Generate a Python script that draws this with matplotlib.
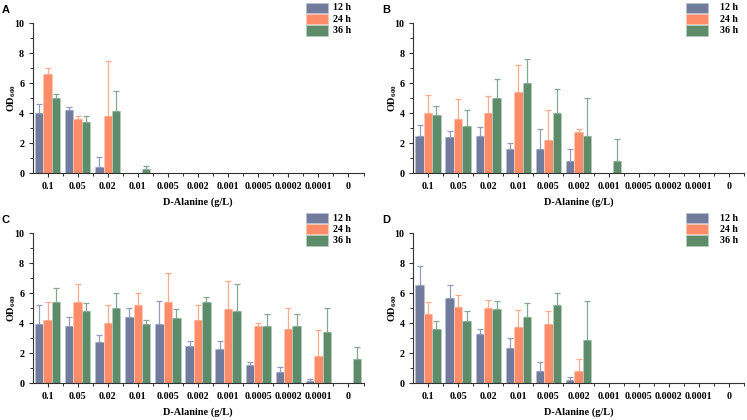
import numpy as np
import matplotlib
matplotlib.use("Agg")
import matplotlib.pyplot as plt
from matplotlib.patches import Rectangle
from matplotlib.ticker import MultipleLocator

plt.rcParams['font.family'] = ['Liberation Serif', 'DejaVu Serif']
plt.rcParams['font.weight'] = 'bold'
plt.rcParams['mathtext.fontset'] = 'custom'
plt.rcParams['mathtext.rm'] = 'Liberation Serif:bold'
plt.rcParams['mathtext.it'] = 'Liberation Serif:bold'
plt.rcParams['mathtext.bf'] = 'Liberation Serif:bold'

# dane
concentrations = ['0.1', '0.05', '0.02', '0.01', '0.005', '0.002', '0.001',
                  '0.0005', '0.0002', '0.0001', '0']
times = ['12 h', '24 h', '36 h']

# panel A
a_12h = [4.0, 4.2, 0.4, 0, 0, 0, 0, 0, 0, 0, 0]
a_24h = [6.65, 3.65, 3.85, 0, 0, 0, 0, 0, 0, 0, 0]
a_36h = [5.05, 3.4, 4.15, 0.3, 0, 0, 0, 0, 0, 0, 0]
a_12h_sd = [0.65, 0.2, 0.7, 0, 0, 0, 0, 0, 0, 0, 0]
a_24h_sd = [0.4, 0.2, 3.65, 0, 0, 0, 0, 0, 0, 0, 0]
a_36h_sd = [0.25, 0.45, 1.35, 0.2, 0, 0, 0, 0, 0, 0, 0]

# panel B
b_12h = [2.5, 2.4, 2.5, 1.6, 1.6, 0.8, 0, 0, 0, 0, 0]
b_24h = [4.0, 3.6, 4.0, 5.4, 2.2, 2.75, 0, 0, 0, 0, 0]
b_36h = [3.9, 3.15, 5.05, 6.05, 4.0, 2.5, 0.85, 0, 0, 0, 0]
b_12h_sd = [0.75, 0.4, 0.6, 0.45, 1.35, 0.85, 0, 0, 0, 0, 0]
b_24h_sd = [1.25, 1.35, 1.15, 1.8, 2.0, 0.2, 0, 0, 0, 0, 0]
b_36h_sd = [0.6, 1.05, 1.25, 1.55, 1.65, 2.5, 1.45, 0, 0, 0, 0]

# panel C
c_12h = [3.95, 3.85, 2.75, 4.4, 3.95, 2.5, 2.3, 1.2, 0.75, 0.15, 0]
c_24h = [4.2, 5.45, 4.05, 5.2, 5.45, 4.25, 4.95, 3.8, 3.6, 1.85, 0]
c_36h = [5.45, 4.85, 5.0, 3.95, 4.35, 5.45, 4.8, 3.85, 3.85, 3.4, 1.65]
c_12h_sd = [1.25, 0.6, 0.5, 0.6, 1.55, 0.3, 0.5, 0.2, 0.35, 0.15, 0]
c_24h_sd = [1.2, 1.15, 1.15, 0.85, 1.9, 1.0, 1.85, 0.25, 1.4, 1.7, 0]
c_36h_sd = [0.9, 0.5, 1.05, 0.25, 0.6, 0.3, 1.8, 0.75, 0.75, 1.65, 0.75]

# panel D
d_12h = [6.55, 5.7, 3.3, 2.35, 0.8, 0.25, 0, 0, 0, 0, 0]
d_24h = [4.6, 5.1, 5.05, 3.75, 3.95, 0.8, 0, 0, 0, 0, 0]
d_36h = [3.65, 4.15, 4.95, 4.4, 5.2, 2.9, 0, 0, 0, 0, 0]
d_12h_sd = [1.25, 0.85, 0.35, 0.65, 0.6, 0.2, 0, 0, 0, 0, 0]
d_24h_sd = [0.85, 0.8, 0.5, 1.15, 0.9, 0.8, 0, 0, 0, 0, 0]
d_36h_sd = [0.5, 0.7, 0.55, 0.95, 0.8, 2.6, 0, 0, 0, 0, 0]

panels = {
    'A': ([a_12h, a_24h, a_36h], [a_12h_sd, a_24h_sd, a_36h_sd]),
    'B': ([b_12h, b_24h, b_36h], [b_12h_sd, b_24h_sd, b_36h_sd]),
    'C': ([c_12h, c_24h, c_36h], [c_12h_sd, c_24h_sd, c_36h_sd]),
    'D': ([d_12h, d_24h, d_36h], [d_12h_sd, d_24h_sd, d_36h_sd]),
}

bar_colors = ['#717C9C', '#FF8C69', '#5E8C6B']
err_colors = ['#939CB9', '#FFA98D', '#84A890']
edge_colors = ['#B8BFD2', '#FFC6B4', '#B3CBBB']

W, H = 747, 420
fig = plt.figure(figsize=(W / 100, H / 100), dpi=100)

# pozycje paneli w pikselach: (lewo, dol osi od gory), legenda (x ramki, y ramki, x tekstu)
layout = {
    'A': (32.5, 173.3, 306, 2.7, 333),
    'B': (413, 173.3, 686, 2.7, 720),
    'C': (32.5, 383.3, 306, 212.7, 333),
    'D': (413, 383.3, 686, 212.7, 720),
}
ax_w, ax_h = 331, 150

x = np.arange(len(concentrations))
bw = 0.28

for name, (means, sds) in panels.items():
    left, bottom, lx, ly, tx = layout[name]
    ax = fig.add_axes([left / W, (H - bottom) / H, ax_w / W, ax_h / H])
    for i in range(3):
        m = np.array(means[i])
        s = np.array(sds[i])
        pos = x + (i - 1) * bw
        ax.bar(pos, m, width=bw, color=bar_colors[i], edgecolor=edge_colors[i],
               linewidth=0.6, zorder=2)
        mask = m > 0
        ax.errorbar(pos[mask], m[mask], yerr=[np.zeros(mask.sum()), s[mask]],
                    fmt='none', ecolor=err_colors[i], elinewidth=0.9,
                    capsize=2.2, capthick=0.9, zorder=3)
    ax.set_xlim(-0.5, 10.5)
    ax.set_ylim(0, 10)
    ax.set_xticks(x)
    ax.set_xticklabels(concentrations)
    ax.set_xticks(x + 0.5, minor=True)
    ax.yaxis.set_major_locator(MultipleLocator(2))
    ax.yaxis.set_minor_locator(MultipleLocator(1))
    for sp in ['top', 'right']:
        ax.spines[sp].set_visible(False)
    for sp in ['left', 'bottom']:
        ax.spines[sp].set_linewidth(0.8)
        ax.spines[sp].set_color('#333333')
    ax.tick_params(which='major', direction='out', length=3, width=0.8,
                   labelsize=7.2, color='#333333', pad=3)
    ax.tick_params(which='minor', direction='out', length=2, width=0.7,
                   color='#333333')
    for lab in ax.get_xticklabels() + ax.get_yticklabels():
        lab.set_fontweight('bold')
    ax.set_xlabel('D-Alanine (g/L)', fontsize=7.4, fontweight='bold')
    ax.xaxis.set_label_coords(0.5, -28.4 / ax_h)
    ax.set_ylabel('OD$_{600}$', fontsize=7.4, fontweight='bold')
    ax.yaxis.set_label_coords(-20.5 / ax_w, 0.5)
    ax.xaxis.label.set_va('center')
    ax.yaxis.label.set_va('center')

    # litera panelu
    fig.text((left - 30.5) / W, 1 - (ly + 7.5) / H, name, fontsize=8,
             fontweight='bold', family='Liberation Sans', va='center', ha='left')

    # legenda
    for i, t in enumerate(times):
        y0 = ly + i * 11.3
        fig.patches.append(Rectangle((lx / W, 1 - (y0 + 10.3) / H), 22 / W, 10.3 / H,
                                     transform=fig.transFigure, facecolor=bar_colors[i],
                                     edgecolor=edge_colors[i], linewidth=0.6))
        fig.text(tx / W, 1 - (y0 + 5.3) / H, t, fontsize=7.2, fontweight='bold',
                 va='center', ha='left')

fig.savefig('out.png', dpi=100)
